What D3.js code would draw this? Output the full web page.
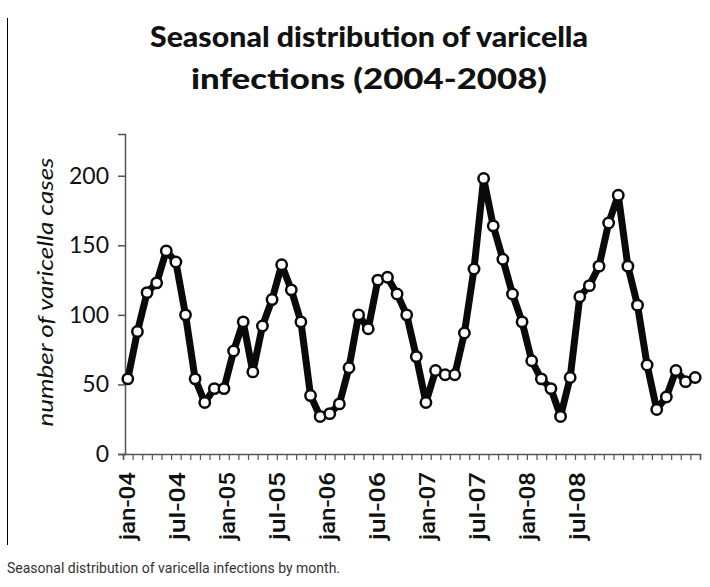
<!DOCTYPE html>
<html>
<head>
<meta charset="utf-8">
<script src="https://cdn.jsdelivr.net/npm/d3@7"></script>
<style>
  body { margin: 0; background: #fff; }
  svg { display: block; }
</style>
</head>
<body>
<script>
const width = 710, height = 587;

// monthly cases, jan-04 .. dec-08
const years = ['04', '05', '06', '07', '08'];
const monthNames = ['jan','feb','mar','apr','may','jun','jul','aug','sep','oct','nov','dec'];
const months = years.flatMap(y => monthNames.map(m => m + '-' + y));
const cases = [
    54, 88, 116, 123, 146, 138, 100, 54, 37, 47, 47, 74,
    95, 59, 92, 111, 136, 118, 95, 42, 27, 29, 36, 62,
    100, 90, 125, 127, 115, 100, 70, 37, 60, 57, 57, 87,
    133, 198, 164, 140, 115, 95, 67, 54, 47, 27, 55, 113,
    121, 135, 166, 186, 135, 107, 64, 32, 41, 60, 52, 55
];
const tickLabels = ['jan-04','jul-04','jan-05','jul-05','jan-06','jul-06','jan-07','jul-07','jan-08','jul-08'];
const yTicks = [0, 50, 100, 150, 200];

const svg = d3.select('body').append('svg')
    .attr('width', width).attr('height', height);

// band scale for the points, linear one for the boundary ticks
const x = d3.scaleBand().domain(months).range([123, 700]).padding(0);
const xTick = d3.scaleLinear().domain([0, months.length]).range([123, 700]);
// the category labels sit on their own spacing in the figure
const xLabel = d3.scalePoint().domain(tickLabels).range([127, 577]);
const y = d3.scaleLinear().domain([0, 230]).range([454, 134]);

// left figure rule
svg.append('line')
    .attr('x1', 7.5).attr('x2', 7.5).attr('y1', 18).attr('y2', 545)
    .attr('stroke', '#000').attr('stroke-width', 1);

// title
const title = svg.append('g')
    .attr('font-family', 'Lato, sans-serif')
    .attr('font-weight', 900)
    .attr('font-size', 29)
    .attr('fill', '#111')
    .attr('text-anchor', 'middle');
title.append('text').attr('x', 369).attr('y', 47)
    .attr('textLength', 438).attr('lengthAdjust', 'spacingAndGlyphs')
    .text('Seasonal distribution of varicella');
title.append('text').attr('x', 369).attr('y', 89)
    .attr('textLength', 356).attr('lengthAdjust', 'spacingAndGlyphs')
    .text('infections (2004-2008)');

// y axis
const yAxis = svg.append('g')
    .attr('transform', 'translate(125,0)')
    .call(d3.axisLeft(y).tickValues(yTicks).tickSize(7).tickPadding(9));
yAxis.select('.domain').attr('stroke', '#555').attr('stroke-width', 1.5);
yAxis.selectAll('.tick line').attr('stroke', '#555').attr('stroke-width', 1.5);
yAxis.selectAll('.tick text')
    .attr('font-family', 'Lato, sans-serif')
    .attr('font-size', 23)
    .attr('fill', '#111');

// x axis with ticks between months
const xAxis = svg.append('g')
    .attr('transform', 'translate(0,' + y(0) + ')')
    .call(d3.axisBottom(xTick).tickValues(d3.range(months.length + 1)).tickSize(6).tickFormat(''));
xAxis.select('.domain').attr('stroke', '#555').attr('stroke-width', 1.5);
xAxis.selectAll('.tick line').attr('stroke', '#555').attr('stroke-width', 1.2);

svg.append('g').selectAll('text')
    .data(tickLabels)
    .join('text')
    .attr('transform', d => 'translate(' + xLabel(d) + ',472) rotate(-90)')
    .attr('text-anchor', 'end')
    .attr('dy', '0.35em')
    .attr('font-family', 'Roboto, sans-serif')
    .attr('font-weight', 500)
    .attr('font-size', 22)
    .attr('fill', '#111')
    .attr('textLength', 68).attr('lengthAdjust', 'spacingAndGlyphs')
    .text(d => d);

// y axis title
svg.append('text')
    .attr('transform', 'translate(45,292) rotate(-90)')
    .attr('text-anchor', 'middle')
    .attr('dy', '0.35em')
    .attr('font-family', 'Lato, sans-serif')
    .attr('font-style', 'italic')
    .attr('font-size', 22)
    .attr('fill', '#111')
    .attr('textLength', 269).attr('lengthAdjust', 'spacingAndGlyphs')
    .text('number of varicella cases');

// series
const line = d3.line()
    .x((d, i) => x(months[i]) + x.bandwidth() / 2)
    .y(d => y(d));

svg.append('path')
    .datum(cases)
    .attr('fill', 'none')
    .attr('stroke', '#0a0a0a')
    .attr('stroke-width', 7)
    .attr('stroke-linejoin', 'round')
    .attr('d', line);

svg.append('g').selectAll('circle')
    .data(cases)
    .join('circle')
    .attr('cx', (d, i) => x(months[i]) + x.bandwidth() / 2)
    .attr('cy', d => y(d))
    .attr('r', 5.2)
    .attr('fill', '#fff')
    .attr('stroke', '#0a0a0a')
    .attr('stroke-width', 2.5);

// caption
svg.append('text')
    .attr('x', 7).attr('y', 573)
    .attr('font-family', 'Roboto, sans-serif')
    .attr('font-size', 14)
    .attr('fill', '#333')
    .text('Seasonal distribution of varicella infections by month.');
</script>
</body>
</html>
